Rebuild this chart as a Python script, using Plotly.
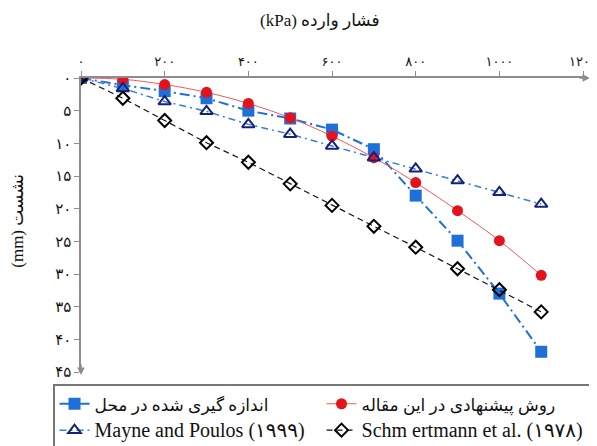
import plotly.graph_objects as go

# ---- data ----
pressure = [0, 100, 200, 300, 400, 500, 600, 700, 800, 900, 1000, 1100]
measured = [0, 1.1, 2.0, 3.1, 5.0, 6.2, 7.9, 10.9, 18.0, 24.9, 33.0, 41.9]
proposed = [0, 0.2, 1.0, 2.2, 3.9, 6.1, 8.9, 12.2, 16.0, 20.3, 24.9, 30.2]
mayne = [0, 1.6, 3.6, 5.1, 7.1, 8.6, 10.4, 12.2, 13.9, 15.7, 17.5, 19.3]
schmertmann = [0, 3.1, 6.5, 9.9, 12.9, 16.2, 19.5, 22.7, 25.9, 29.2, 32.4, 35.8]

series_names = [
    "اندازه گیری شده در محل",
    "روش پیشنهادی در این مقاله",
    "Mayne and Poulos (۱۹۹۹)",
    "Schm ertmann et al. (۱۹۷۸)",
]
name_sizes = [17, 17, 20, 20]

x_tickvals = [0, 200, 400, 600, 800, 1000, 1200]
x_ticktext = ["۰", "۲۰۰", "۴۰۰", "۶۰۰", "۸۰۰", "۱۰۰۰", "۱۲۰۰"]
y_tickvals = [0, 5, 10, 15, 20, 25, 30, 35, 40, 45]
y_ticktext = ["۰", "۵", "۱۰", "۱۵", "۲۰", "۲۵", "۳۰", "۳۵", "۴۰", "۴۵"]

# right-to-left titles (wrapped in RLI ... PDI so they lay out RTL)
x_title = "\u2067فشار وارده (kPa)\u2069"
y_title = "\u2067نشست (mm)\u2069"

FONT = "Liberation Serif, DejaVu Sans, serif"
AXIS_COLOR = "#8c8c8c"


def legend_name(i):
    return f"<span style='font-size:{name_sizes[i]}px'>{series_names[i]}</span>"


fig = go.Figure()

fig.add_trace(go.Scatter(
    x=pressure, y=measured, name=legend_name(0), mode="lines+markers",
    line=dict(color="#1f6fd8", width=2, dash="10px,4px,2px,4px"),
    marker=dict(symbol="square", size=12, color="#1f6fd8"),
))
fig.add_trace(go.Scatter(
    x=pressure, y=proposed, name=legend_name(1), mode="lines+markers",
    line=dict(color="#f25a5a", width=1, shape="spline"),
    marker=dict(symbol="circle", size=11, color="#e4121b"),
))
fig.add_trace(go.Scatter(
    x=pressure, y=mayne, name=legend_name(2), mode="lines+markers",
    line=dict(color="#3a7fd8", width=1.5, dash="7px,4px,2px,4px"),
    marker=dict(symbol="triangle-up-open", size=11, color="#15227a",
                line=dict(width=2, color="#15227a")),
))
fig.add_trace(go.Scatter(
    x=pressure, y=schmertmann, name=legend_name(3), mode="lines+markers",
    line=dict(color="#111111", width=1.2, dash="6px,4px"),
    marker=dict(symbol="diamond-open", size=10, color="#000000",
                line=dict(width=2, color="#000000")),
))

fig.update_layout(
    width=589, height=438,
    margin=dict(l=73, r=11, t=70, b=74, autoexpand=False),
    paper_bgcolor="white", plot_bgcolor="white",
    font=dict(family=FONT, size=15, color="#111111"),
    showlegend=True,
    legend=dict(
        orientation="h", x=-0.0554, y=-0.041, xanchor="left", yanchor="top",
        entrywidth=222, bordercolor="#777777", borderwidth=1.5,
        bgcolor="white", font=dict(family=FONT, size=18, color="#111111"),
        tracegroupgap=0, itemsizing="trace",
    ),
    xaxis=dict(
        side="top", range=[0, 1207], showgrid=False, zeroline=False,
        showline=True, linecolor=AXIS_COLOR, linewidth=1.5,
        ticks="outside", ticklen=5, tickcolor=AXIS_COLOR,
        tickvals=x_tickvals, ticktext=x_ticktext, ticklabeloverflow="allow",
        tickfont=dict(family="DejaVu Sans", size=13, color="#111111"),
    ),
    yaxis=dict(
        autorange=False, range=[45, 0], showgrid=False, zeroline=False,
        showline=True, linecolor=AXIS_COLOR, linewidth=1.5,
        ticks="outside", ticklen=5, tickcolor=AXIS_COLOR,
        tickvals=y_tickvals, ticktext=y_ticktext,
        tickfont=dict(family="DejaVu Sans", size=15, color="#111111"),
    ),
    annotations=[
        dict(text=x_title, xref="paper", yref="paper", x=0.473, y=1.234,
             xanchor="center", showarrow=False, font=dict(family=FONT, size=17)),
        dict(text=y_title, xref="paper", yref="paper", x=-0.125, y=0.514,
             xanchor="center", yanchor="middle", textangle=-90,
             showarrow=False, font=dict(family=FONT, size=17)),
        # axis arrowheads
        dict(text="", xref="paper", yref="paper", x=1.008, y=1, ax=-12, ay=0,
             showarrow=True, arrowhead=2, arrowsize=1, arrowwidth=1.5,
             arrowcolor=AXIS_COLOR),
        dict(text="", xref="paper", yref="paper", x=0, y=-0.01, ax=0, ay=-12,
             showarrow=True, arrowhead=2, arrowsize=1, arrowwidth=1.5,
             arrowcolor=AXIS_COLOR),
    ],
)

fig.write_html("out.html")
